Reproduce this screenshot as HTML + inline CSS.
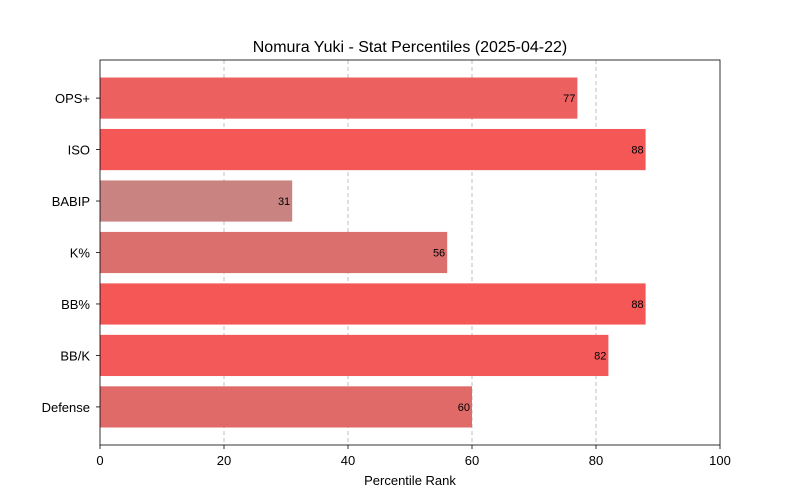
<!DOCTYPE html>
<html><head><meta charset="utf-8"><style>
html,body{margin:0;padding:0;background:#fff;}
svg{display:block;font-family:"Liberation Sans","DejaVu Sans",sans-serif;}
</style></head><body>
<svg id="chart" width="800" height="500" viewBox="0 0 800 500">
<rect width="800" height="500" fill="#fff"/>
<text x="410" y="52" text-anchor="middle" font-size="16" fill="#000">Nomura Yuki - Stat Percentiles (2025-04-22)</text>
<g id="grid"></g>
<g id="bars"></g>
<g id="axes"></g>
<text x="410" y="485" text-anchor="middle" font-size="13" fill="#000">Percentile Rank</text>
</svg>
<script>
const categories = ["OPS+","ISO","BABIP","K%","BB%","BB/K","Defense"];
const values = [77,88,31,56,88,82,60];
const barColors = ["#ec605f","#f55656","#c98481","#db6f6d","#f55656","#f45959","#e06a68"];
const xTicks = [0,20,40,60,80,100];

const NS="http://www.w3.org/2000/svg";
const L=100,R=720,T=60,B=445;
const xs=v=>L+(v/100)*(R-L);
const n=categories.length;
const span=(n-1)+0.8, marg=span*0.05, total=span+2*marg;
const step=(B-T)/total;
const yc=i=>T+(marg+0.4+i)*step;
function mk(tag,attrs,parent){const e=document.createElementNS(NS,tag);for(const k in attrs)e.setAttribute(k,attrs[k]);parent.appendChild(e);return e;}
const grid=document.getElementById('grid'),bars=document.getElementById('bars'),axes=document.getElementById('axes');
xTicks.forEach(t=>{
  if(t>0&&t<100){const g=mk('line',{x1:xs(t),x2:xs(t),y1:T,y2:B,stroke:'#b0b0b0','stroke-width':0.8,'stroke-dasharray':'4,3'},grid);
  
  }
  const tk=mk('line',{x1:xs(t),x2:xs(t),y1:B,y2:B+4,stroke:'#000','stroke-width':0.8},axes);
  
  
  const tl=mk('text',{x:xs(t),y:B+20,'text-anchor':'middle','font-size':13,fill:'#000'},axes);
  tl.textContent=t;
  
  
});
const bh=step*0.8;
categories.forEach((c,i)=>{
  const r=mk('rect',{x:L,y:yc(i)-bh/2,width:xs(values[i])-L,height:bh,fill:barColors[i]},bars);
  
  
  const v=mk('text',{x:xs(values[i])-2,y:yc(i)+4,'text-anchor':'end','font-size':11,fill:'#000'},bars);
  v.textContent=values[i];
  
  
  const tk=mk('line',{x1:L-4,x2:L,y1:yc(i),y2:yc(i),stroke:'#000','stroke-width':0.8},axes);
  
  
  const tl=mk('text',{x:L-10,y:yc(i)+5,'text-anchor':'end','font-size':13,fill:'#000'},axes);
  tl.textContent=c;
  
  
});
const fr=mk('rect',{x:L,y:T,width:R-L,height:B-T,fill:'none',stroke:'#000','stroke-width':0.8},axes);


</script>
</body></html>
